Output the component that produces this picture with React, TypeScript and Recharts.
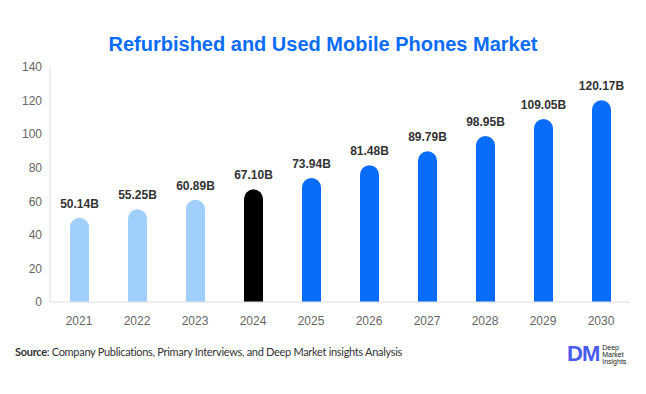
import { BarChart, Bar, XAxis, YAxis, Cell, LabelList } from "recharts";

const years = ["2021", "2022", "2023", "2024", "2025", "2026", "2027", "2028", "2029", "2030"];
const values = [50.14, 55.25, 60.89, 67.1, 73.94, 81.48, 89.79, 98.95, 109.05, 120.17];
const yTicks = [0, 20, 40, 60, 80, 100, 120, 140];

const LIGHT = "#a0cffc";
const BASE = "#000000";
const BLUE = "#0a6cfb";

const colorFor = (year: string) => {
  const y = Number(year);
  if (y < 2024) return LIGHT;
  if (y === 2024) return BASE;
  return BLUE;
};

const data = years.map((year, i) => ({ year, value: values[i] }));

export default function App() {
  return (
    <div
      style={{
        position: "absolute",
        left: 0,
        top: 0,
        width: 646,
        height: 394,
        background: "#fff",
        fontFamily: "'Liberation Sans', Arial, sans-serif",
      }}
    >
      <div
        style={{
          position: "absolute",
          top: 33,
          left: 0,
          width: 646,
          textAlign: "center",
          fontSize: 20,
          fontWeight: 700,
          color: "#0a6cfb",
        }}
      >
        Refurbished and Used Mobile Phones Market
      </div>
      <BarChart
        width={646}
        height={394}
        data={data}
        margin={{ top: 67, right: 16, bottom: 62, left: 0 }}
      >
        <XAxis
          dataKey="year"
          axisLine={{ stroke: "#dddddd" }}
          tickLine={false}
          tickMargin={8}
          tick={{ fontSize: 12, fill: "#666666" }}
        />
        <YAxis
          width={50}
          domain={[0, 140]}
          ticks={yTicks}
          axisLine={{ stroke: "#dddddd" }}
          tickLine={false}
          tick={{ fontSize: 12, fill: "#666666" }}
        />
        <Bar dataKey="value" barSize={19} radius={[10, 10, 0, 0]} isAnimationActive={false}>
          {data.map((d) => (
            <Cell key={d.year} fill={colorFor(d.year)} />
          ))}
          <LabelList
            dataKey="value"
            position="top"
            offset={10}
            formatter={(v: number) => `${v.toFixed(2)}B`}
            style={{ fontSize: 12, fontWeight: 700, fill: "#333333" }}
          />
        </Bar>
      </BarChart>
      <div
        style={{
          position: "absolute",
          left: 15,
          top: 345,
          fontFamily: "Lato, 'Open Sans', sans-serif",
          fontSize: 11,
          letterSpacing: -0.3,
          color: "#333",
        }}
      >
        <span style={{ fontWeight: 700 }}>Source</span>: Company Publications, Primary Interviews, and Deep Market insights Analysis
      </div>
      <div style={{ position: "absolute", left: 567, top: 341, display: "flex", alignItems: "center" }}>
        <span
          style={{
            fontFamily: "'Liberation Sans', Arial, sans-serif",
            fontWeight: 700,
            fontSize: 22,
            color: "#4a5cf0",
            letterSpacing: -1,
          }}
        >
          DM
        </span>
        <span
          style={{
            marginLeft: 3,
            fontFamily: "'Liberation Sans', Arial, sans-serif",
            fontSize: 7,
            lineHeight: "7px",
            color: "#222",
          }}
        >
          Deep
          <br />
          Market
          <br />
          Insights
        </span>
      </div>
    </div>
  );
}
